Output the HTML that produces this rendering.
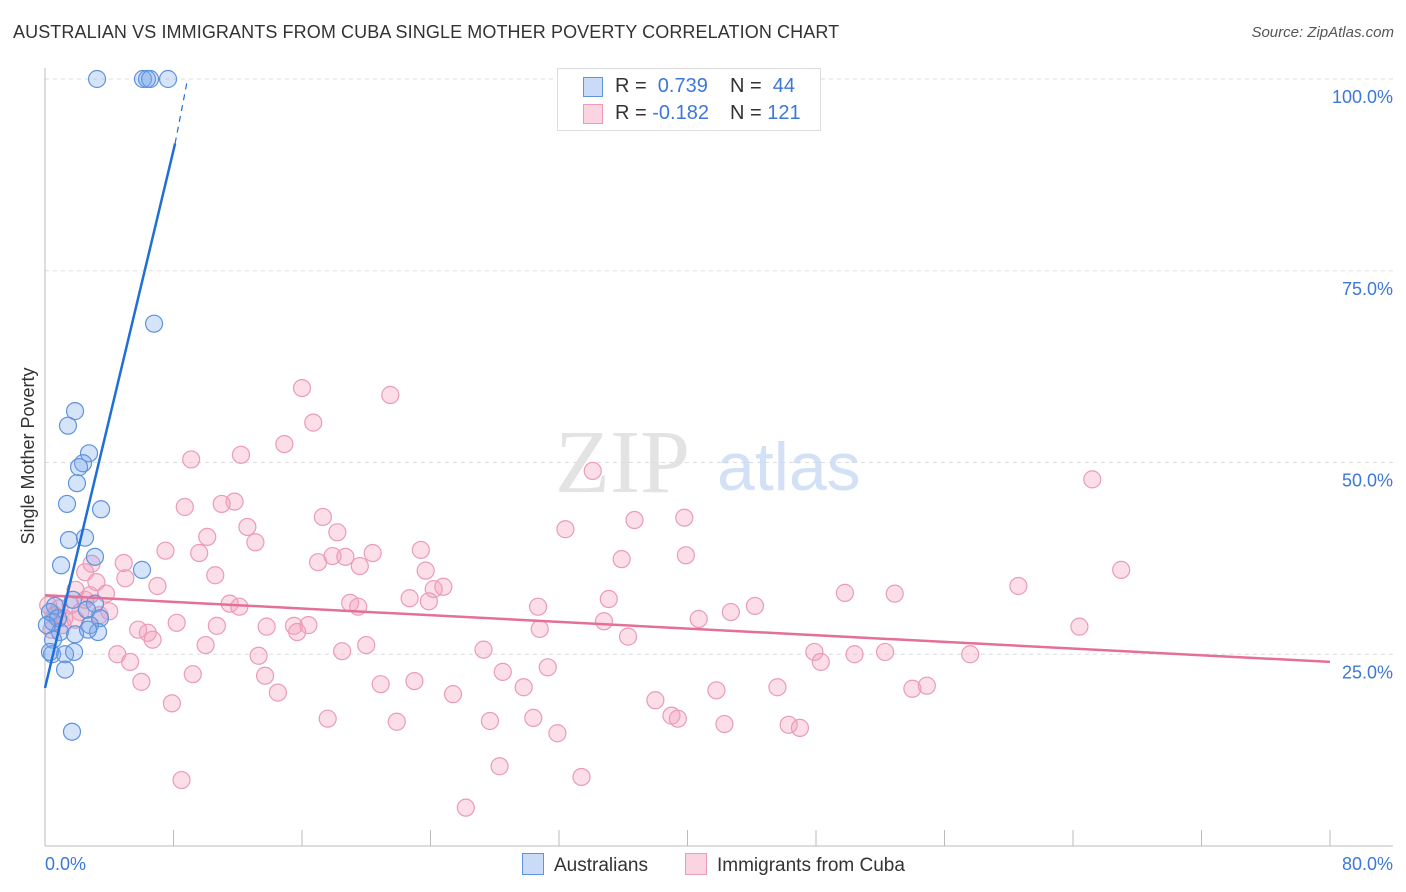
<!DOCTYPE html>
<html><head><meta charset="utf-8"><style>
body{margin:0;background:#fff;font-family:"Liberation Sans",sans-serif;}
#wrap{position:relative;width:1406px;height:892px;overflow:hidden;}
</style></head><body>
<div id="wrap">
<div style="position:absolute;left:13px;top:22px;font-size:18px;color:#333;letter-spacing:0.1px">AUSTRALIAN VS IMMIGRANTS FROM CUBA SINGLE MOTHER POVERTY CORRELATION CHART</div>
<div style="position:absolute;right:12px;top:24px;font-size:15px;color:#555;font-style:italic">Source: ZipAtlas.com</div>
<svg id="svg" width="1406" height="892" style="position:absolute;left:0;top:0"></svg>
</div>
<script>
const xTicks=[0,8,16,24,32,40,48,56,64,72,80];
const yTicks=[25,50,75,100];
const yTickLabels=["25.0%","50.0%","75.0%","100.0%"];
const blueX=[3.24,6.10,6.35,6.54,7.66,6.79,1.87,1.43,2.74,2.37,2.12,1.99,1.37,3.49,1.49,2.49,3.11,1.0,6.04,1.74,3.11,2.61,0.62,0.5,0.93,1.87,3.42,2.8,3.3,2.68,0.5,0.44,0.31,1.25,1.81,1.25,1.68,0.31,0.81,0.12];
const blueY=[100,100,100,100,100,68.1,56.7,54.8,51.2,49.9,49.4,47.3,44.6,43.9,39.9,40.2,37.7,36.6,36.0,32.1,31.6,30.8,31.3,29.2,27.9,27.6,29.7,28.8,27.9,28.2,26.9,25.0,25.3,25.0,25.3,23.0,14.9,30.5,29.7,28.8];
const pinkX=[16.0,21.5,16.7,14.9,9.1,12.2,34.1,65.2,8.7,11.8,11.0,17.3,36.7,39.8,32.4,12.6,18.2,10.1,13.1,7.5,9.6,17.9,18.7,20.4,23.4,17.0,35.9,39.9,19.6,67.0,4.9,2.9,10.6,23.7,5.0,3.2,7.0,24.2,24.8,60.6,49.8,52.9,3.8,22.7,35.1,23.9,11.5,12.1,19.0,19.5,30.7,44.2,42.7,4.0,40.7,34.8,8.2,6.4,5.8,6.7,10.7,13.8,15.5,16.4,15.7,30.8,36.3,64.4,20.0,10.0,18.5,47.9,27.3,50.4,52.3,57.6,4.5,5.3,13.3,48.3,31.3,28.5,9.2,13.7,6.0,20.9,23.0,29.8,41.8,45.6,54.0,54.9,14.5,25.4,7.9,38.0,39.0,39.4,42.3,17.6,21.9,27.7,30.4,46.3,47.0,31.9,28.3,8.5,33.4,26.2,0.9,1.6,2.2,2.5,3.4,1.2,0.2,0.6,1.9,2.5,2.8,1.1,0.4,1.9];
const pinkY=[59.7,58.8,55.2,52.4,50.4,51.0,48.9,47.8,44.2,44.9,44.6,42.9,42.5,42.8,41.3,41.6,40.9,40.3,39.6,38.5,38.2,37.8,37.7,38.2,38.6,37.0,37.4,37.9,36.5,36.0,36.9,36.8,35.3,35.9,34.9,34.4,33.9,33.5,33.8,33.9,33.0,32.9,32.9,32.3,32.2,31.9,31.6,31.2,31.7,31.2,31.2,31.3,30.5,30.6,29.6,29.3,29.1,27.8,28.2,26.9,28.7,28.6,28.7,28.8,27.9,28.3,27.3,28.6,26.2,26.2,25.4,25.3,25.6,25.0,25.3,25.0,25.0,24.0,24.8,24.0,23.3,22.7,22.4,22.2,21.4,21.1,21.5,20.7,20.3,20.7,20.5,20.9,20.0,19.8,18.6,19.0,17.0,16.6,15.9,16.6,16.2,16.3,16.7,15.8,15.4,14.7,10.4,8.6,9.0,5.0,31.0,31.4,30.5,32.1,30.1,29.7,31.4,30.1,33.4,35.7,32.7,28.8,28.2,29.5];
const blueTrend=[[0,20.6],[8.1,91.6]];
const blueTrendDash=[[8.1,91.6],[8.84,99.6]];
const pinkTrend=[[0,32.7],[80,24.0]];

const X=v=>45+v/80*1285, Y=v=>846-v/100*767;
const svg=document.getElementById('svg');const NS='http://www.w3.org/2000/svg';
function mk(t,a){const e=document.createElementNS(NS,t);for(const k in a)e.setAttribute(k,a[k]);svg.appendChild(e);return e;}
yTicks.forEach((t,i)=>{
 const g=mk('line',{x1:45,x2:1393,y1:Y(t),y2:Y(t),stroke:'#ddd','stroke-dasharray':'4,4'});
 
 
 const tx=mk('text',{x:1393,y:Y(t)+24,'text-anchor':'end','font-size':18,fill:'#3b78d8'});tx.textContent=yTickLabels[i];
 
 
});
const ax=mk('line',{x1:45,x2:45,y1:68,y2:846,stroke:'#bbb'});


const bx=mk('line',{x1:45,x2:1393,y1:846,y2:846,stroke:'#bbb'});


xTicks.forEach(t=>{const l=mk('line',{x1:X(t),x2:X(t),y1:830,y2:846,stroke:'#bbb'});
 
 });
const x0=mk('text',{x:45,y:870,'font-size':18,fill:'#3b78d8'});x0.textContent='0.0%';


const x1=mk('text',{x:1393,y:870,'text-anchor':'end','font-size':18,fill:'#3b78d8'});x1.textContent='80.0%';


const yt=mk('text',{x:34,y:456,'text-anchor':'middle','font-size':18,fill:'#333',transform:'rotate(-90 34 456)'});yt.textContent='Single Mother Poverty';


const w1=mk('text',{x:555,y:492,'font-size':90,fill:'#ddd','font-family':'Liberation Serif',opacity:0.8});w1.textContent='ZIP';


const w2=mk('text',{x:717,y:490,'font-size':68,fill:'#c8daf3',opacity:0.8});w2.textContent='atlas';


pinkX.forEach((v,i)=>{const c=mk('circle',{cx:X(v),cy:Y(pinkY[i]),r:8.5,fill:'rgba(244,160,188,0.35)',stroke:'#eb9bb7','stroke-width':1.2});
 
 });
blueX.forEach((v,i)=>{const c=mk('circle',{cx:X(v),cy:Y(blueY[i]),r:8.5,fill:'rgba(120,165,235,0.3)',stroke:'#5f93dd','stroke-width':1.2});
 
 });
const pl=mk('line',{x1:X(pinkTrend[0][0]),y1:Y(pinkTrend[0][1]),x2:X(pinkTrend[1][0]),y2:Y(pinkTrend[1][1]),stroke:'#e46f98','stroke-width':2.5});


const bl=mk('line',{x1:X(blueTrend[0][0]),y1:Y(blueTrend[0][1]),x2:X(blueTrend[1][0]),y2:Y(blueTrend[1][1]),stroke:'#1f6fd6','stroke-width':2.5});


const bd=mk('line',{x1:X(blueTrendDash[0][0]),y1:Y(blueTrendDash[0][1]),x2:X(blueTrendDash[1][0]),y2:Y(blueTrendDash[1][1]),stroke:'#1f6fd6','stroke-width':1.2,'stroke-dasharray':'6,5'});


</script>
<div style="position:absolute;left:557px;top:68px;width:262px;height:61px;border:1px solid #ddd;background:#fff;font-size:20px;color:#333">
 <div style="position:absolute;left:25px;top:8px;width:18px;height:18px;background:rgba(120,165,235,0.4);border:1px solid #5f93dd"></div>
 <div style="position:absolute;left:57px;top:6px">R = <span style="color:#3b78d8">&nbsp;0.739</span></div>
 <div style="position:absolute;left:172px;top:6px">N = <span style="color:#3b78d8">&nbsp;44</span></div>
 <div style="position:absolute;left:25px;top:35px;width:18px;height:18px;background:rgba(244,160,188,0.45);border:1px solid #eb9bb7"></div>
 <div style="position:absolute;left:57px;top:33px">R = <span style="color:#3b78d8">-0.182</span></div>
 <div style="position:absolute;left:172px;top:33px">N = <span style="color:#3b78d8">121</span></div>
</div>
<div style="position:absolute;left:522px;top:853px;font-size:19px;color:#333">
 <span style="display:inline-block;width:20px;height:20px;background:rgba(120,165,235,0.4);border:1px solid #5f93dd;vertical-align:-4px;margin-right:10px"></span>Australians</div>
<div style="position:absolute;left:685px;top:853px;font-size:19px;color:#333">
 <span style="display:inline-block;width:20px;height:20px;background:rgba(244,160,188,0.45);border:1px solid #eb9bb7;vertical-align:-4px;margin-right:10px"></span>Immigrants from Cuba</div>
</body></html>
